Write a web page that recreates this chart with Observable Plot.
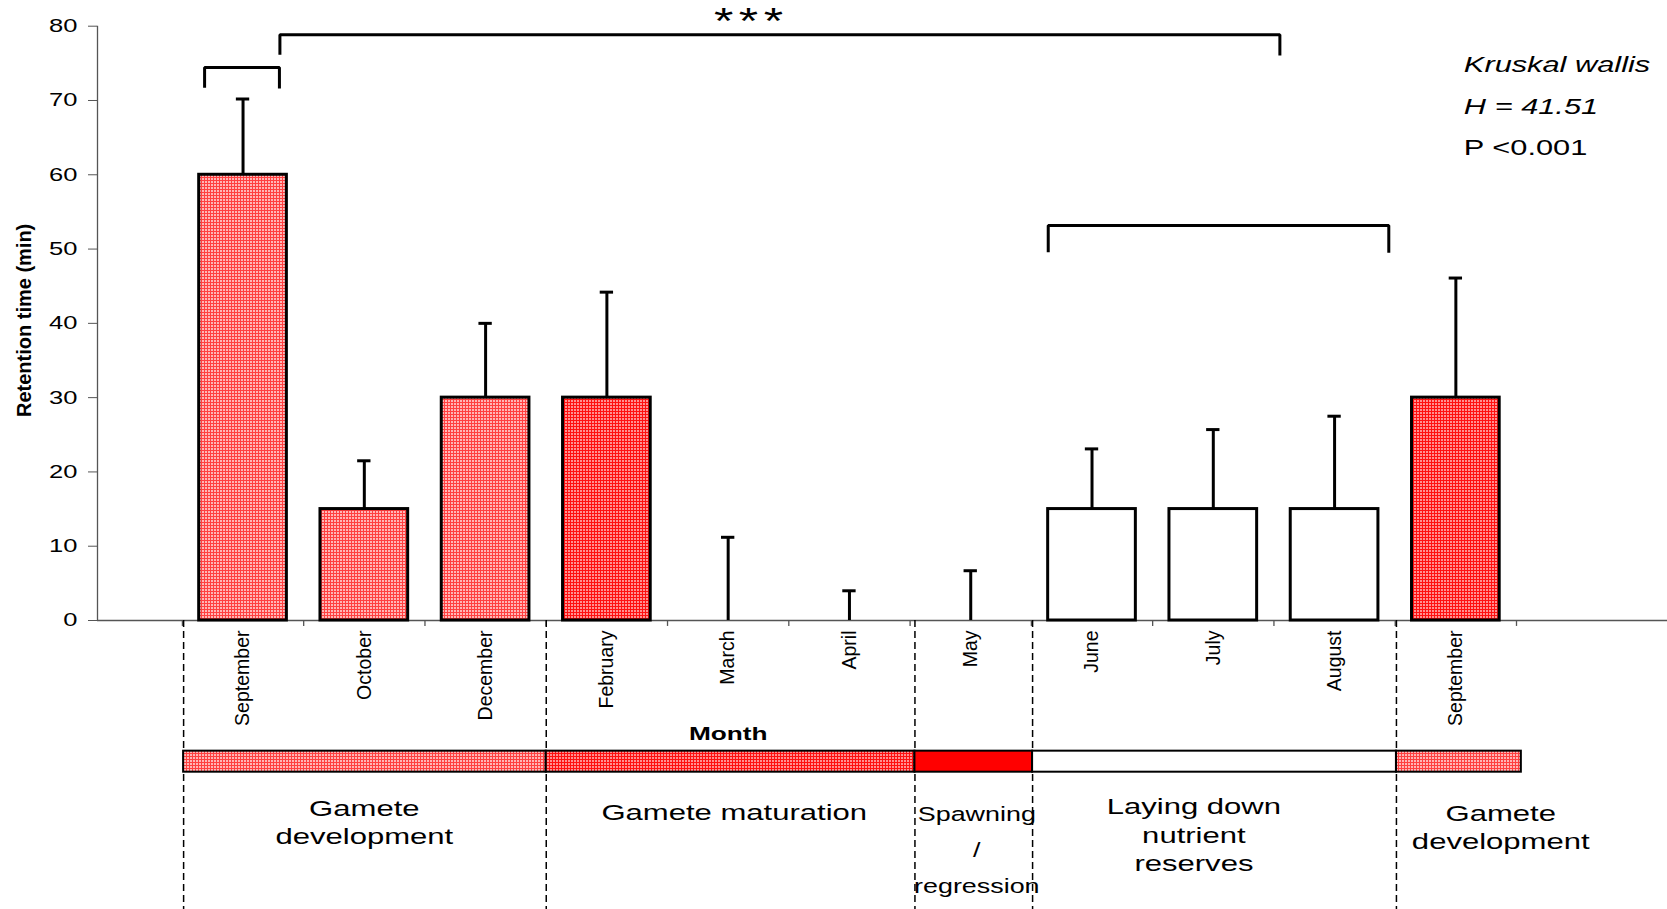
<!DOCTYPE html>
<html>
<head>
<meta charset="utf-8">
<script src="https://cdn.jsdelivr.net/npm/d3@7"></script>
<script src="https://cdn.jsdelivr.net/npm/@observablehq/plot@0.6"></script>
<style>
html, body { margin: 0; padding: 0; background: #ffffff; }
#chart svg { display: block; }
</style>
</head>
<body>
<div id="chart"></div>
<script>
// ---------- data ----------
const yTicks = [0, 10, 20, 30, 40, 50, 60, 70, 80];
const months = ["September", "October", "December", "February", "March", "April", "May", "June", "July", "August", "September"];
const meanRetention = [60, 15, 30, 30, 0, 0, 0, 15, 15, 15, 30];
const upperError = [70.2, 21.5, 40.0, 44.2, 11.2, 4.0, 6.7, 23.1, 25.7, 27.5, 46.1];
const barStyle = ["light", "light", "light", "dark", "light", "light", "light", "white", "white", "white", "dark"];

const bracketLeft = [-0.317, 0.304, 6.639];
const bracketRight = [0.300, 8.549, 9.447];
const bracketTop = [74.44, 78.84, 53.17];
const bracketEndLeft = [71.7, 76.15, 49.57];
const bracketEndRight = [71.6, 76.05, 49.5];
const significance = "***";

const statsLines = ["Kruskal wallis", "H = 41.51", "P <0.001"];
const statsItalic = [true, true, false];

const phaseLabels = ["Gamete\ndevelopment", "Gamete maturation", "Spawning\n/\nregression", "Laying down\nnutrient\nreserves", "Gamete\ndevelopment"];
const phaseStart = [-0.49, 2.5, 5.54, 6.51, 9.51];
const phaseEnd = [2.5, 5.54, 6.51, 9.51, 10.54];
const phaseStyle = ["light", "dark", "red", "white", "light"];

const yTitle = "Retention time (min)";
const xTitle = "Month";

// ---------- layout (positions in scale units) ----------
const BAR_HALF = 0.3615, CAP_HALF = 0.055;
const STATS_X = 10.066, STATS_Y = [73.9, 68.21, 62.6];
const SIG_X = 4.19, SIG_Y = 79.0;
const BAND_Y1 = -17.59, BAND_Y2 = -20.42, DASH_END = -38.9, TICK_END = -0.8;
const XTITLE_POS = [4.0, -16.15];
const YTITLE_POS = [-1.805, 40.4];
const phaseLabelX = [1.0, 4.05, 6.05, 7.84, 10.37];
const phaseLabelBaseline = [-30.15, -26.92, -36.71, -33.75, -30.73];
const phaseLineHeight = [1.244, 1, 1.84, 1.276, 1.227];
const phaseFontSize = [22.5, 22.5, 19.5, 22.5, 22.5];
const STRETCH = 1.38;
const FONT = "'Liberation Sans', Arial, Helvetica, sans-serif";

const fills = {light: "url(#pLight)", dark: "url(#pDark)", red: "#ff0000", white: "#ffffff"};

const tbl = months.map((m, i) => ({i, m, mean: meanRetention[i], up: upperError[i], style: barStyle[i]}));
const phases = phaseLabels.map((label, k) => ({k, label, x1: phaseStart[k], x2: phaseEnd[k], style: phaseStyle[k]}));
const bracketPts = bracketLeft.flatMap((l, k) => [
  {k, x: l, y: bracketEndLeft[k]},
  {k, x: l, y: bracketTop[k]},
  {k, x: bracketRight[k], y: bracketTop[k]},
  {k, x: bracketRight[k], y: bracketEndRight[k]}
]);
const statsRows = statsLines.map((t, k) => ({t, y: STATS_Y[k], italic: statsItalic[k]}));
const boundaries = d3.range(months.length + 1).map(i => i - 0.5);

const marks = [];
// axes lines
marks.push(Plot.ruleY([0], {stroke: "#555", strokeWidth: 1.3}));
marks.push(Plot.ruleX([-1.2], {stroke: "#555", strokeWidth: 1.3}));
marks.push(Plot.axisY(yTicks, {tickSize: 9, tickPadding: 11, fontSize: 18.5, stroke: "#555", label: null}));
marks.push(Plot.ruleX(boundaries, {y1: 0, y2: TICK_END, stroke: "#555", strokeWidth: 1.3}));
marks.push(Plot.axisX(tbl.map(d => d.i), {tickSize: 0, tickPadding: 10, tickRotate: -90, tickFormat: i => months[i], fontSize: 19.5, label: null}));

// dashed phase separators
marks.push(Plot.ruleX(phaseStart, {y1: 0, y2: DASH_END, stroke: "#000", strokeWidth: 1.5, strokeDasharray: "7,4"}));

// bars
for (const s of Object.keys(fills)) {
  marks.push(Plot.rect(tbl.filter(d => d.style === s && d.mean > 0), {
    x1: d => d.i - BAR_HALF, x2: d => d.i + BAR_HALF, y1: 0, y2: "mean",
    fill: fills[s], stroke: "#000", strokeWidth: 3
  }));
}
// error bars
marks.push(Plot.ruleX(tbl, {x: "i", y1: "mean", y2: "up", stroke: "#000", strokeWidth: 3}));
marks.push(Plot.ruleY(tbl, {y: "up", x1: d => d.i - CAP_HALF, x2: d => d.i + CAP_HALF, stroke: "#000", strokeWidth: 3}));

// brackets
marks.push(Plot.line(bracketPts, {x: "x", y: "y", z: "k", stroke: "#000", strokeWidth: 3, strokeLinejoin: "miter", strokeLinecap: "butt"}));
marks.push(Plot.text([significance], {x: SIG_X, y: SIG_Y, fontSize: 36, lineAnchor: "bottom", textAnchor: "middle", ariaDescription: "sig"}));

// stats
marks.push(Plot.text(statsRows.filter(d => d.italic), {x: STATS_X, y: "y", text: "t", fontSize: 22.3, fontStyle: "italic", textAnchor: "start", lineAnchor: "bottom", ariaDescription: "stretched"}));
marks.push(Plot.text(statsRows.filter(d => !d.italic), {x: STATS_X, y: "y", text: "t", fontSize: 22.3, textAnchor: "start", lineAnchor: "bottom", ariaDescription: "stretched"}));

// titles
marks.push(Plot.text([yTitle], {x: YTITLE_POS[0], y: YTITLE_POS[1], rotate: -90, fontSize: 20, fontWeight: "bold", textAnchor: "middle"}));
marks.push(Plot.text([xTitle], {x: XTITLE_POS[0], y: XTITLE_POS[1], fontSize: 19, fontWeight: "bold", textAnchor: "middle", lineAnchor: "bottom", ariaDescription: "stretched"}));

// phase band
for (const s of Object.keys(fills)) {
  marks.push(Plot.rect(phases.filter(d => d.style === s), {
    x1: "x1", x2: "x2", y1: BAND_Y1, y2: BAND_Y2, fill: fills[s], stroke: "#000", strokeWidth: 2
  }));
}
// phase labels
phases.forEach((p, k) => {
  marks.push(Plot.text([p.label], {
    x: phaseLabelX[k], y: phaseLabelBaseline[k], fontSize: phaseFontSize[k], lineHeight: phaseLineHeight[k],
    textAnchor: "middle", lineAnchor: "bottom", ariaDescription: "stretched"
  }));
});

const svg = Plot.plot({
  width: 1667,
  height: 909,
  marginLeft: 97,
  marginRight: 0,
  marginTop: 25.7,
  marginBottom: 289,
  x: {type: "linear", domain: [-1.2, 11.745]},
  y: {type: "linear", domain: [0, 80]},
  style: {fontFamily: FONT, fontSize: "18px", color: "#000", background: "#fff", overflow: "visible"},
  marks
});

// patterns
const defs = d3.select(svg).insert("defs", ":first-child");
function pattern(id, bg, cell) {
  const p = defs.append("pattern").attr("id", id).attr("patternUnits", "userSpaceOnUse").attr("width", 3).attr("height", 3);
  p.append("rect").attr("width", 3).attr("height", 3).attr("fill", bg);
  p.append("rect").attr("x", 1).attr("y", 1).attr("width", 2).attr("height", 2).attr("fill", cell);
}
pattern("pLight", "#ff4040", "#ffb6b6");
pattern("pDark", "#ff1010", "#ff9090");

// horizontal stretch of the upright texts (the source figure is widened)
function stretch(t, s) {
  const tr = t.getAttribute("transform");
  if (tr && /translate\(/.test(tr)) {
    t.setAttribute("transform", tr.replace(/(translate\([^)]*\))/, `$1 scale(${s},1)`));
  } else {
    const x = +(t.getAttribute("x") || 0);
    t.setAttribute("transform", `${tr ? tr + " " : ""}translate(${x},0) scale(${s},1) translate(${-x},0)`);
  }
}
svg.querySelectorAll('g[aria-description="stretched"] text, g[aria-label="y-axis tick label"] text').forEach(t => stretch(t, STRETCH));
svg.querySelectorAll('g[aria-description="sig"] text').forEach(t => { t.style.letterSpacing = "4px"; stretch(t, STRETCH); });

document.getElementById("chart").appendChild(svg);
</script>
</body>
</html>
